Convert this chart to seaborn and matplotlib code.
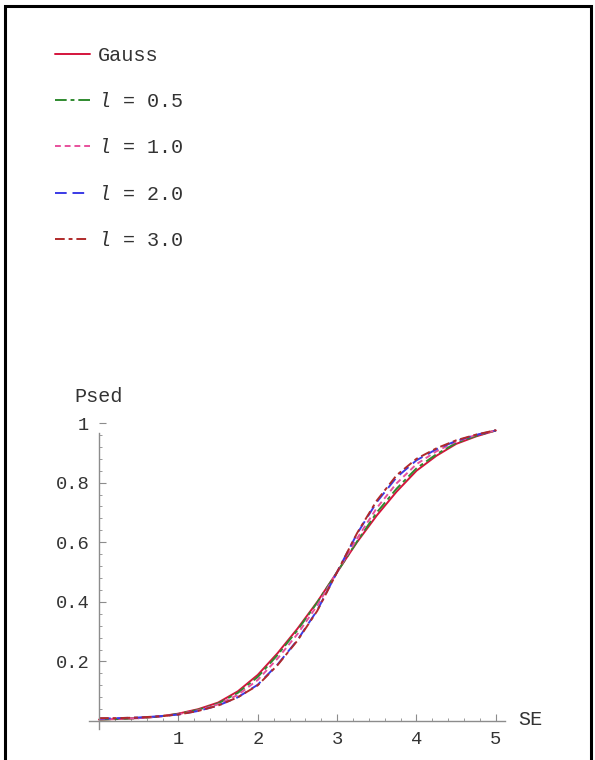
import matplotlib
matplotlib.use("Agg")
import matplotlib.pyplot as plt
import matplotlib.patches as mpatches
from matplotlib.ticker import MultipleLocator
import seaborn as sns
import numpy as np

# ---------------- data ----------------
se = [0.0, 0.25, 0.5, 0.75, 1.0, 1.25, 1.5, 1.75, 2.0, 2.25, 2.5,
      2.75, 3.0, 3.25, 3.5, 3.75, 4.0, 4.25, 4.5, 4.75, 5.0]
gauss = [0.005, 0.007, 0.010, 0.015, 0.025, 0.040, 0.062, 0.100, 0.155, 0.228, 0.310,
         0.400, 0.500, 0.600, 0.690, 0.770, 0.840, 0.890, 0.930, 0.955, 0.975]
l05 = [0.005, 0.007, 0.010, 0.015, 0.024, 0.038, 0.059, 0.095, 0.148, 0.222, 0.305,
       0.398, 0.500, 0.602, 0.700, 0.780, 0.848, 0.895, 0.933, 0.957, 0.975]
l10 = [0.006, 0.008, 0.010, 0.015, 0.023, 0.036, 0.056, 0.088, 0.138, 0.210, 0.292,
       0.388, 0.500, 0.612, 0.715, 0.798, 0.862, 0.905, 0.938, 0.960, 0.975]
l20 = [0.008, 0.010, 0.012, 0.016, 0.022, 0.034, 0.052, 0.080, 0.122, 0.190, 0.272,
       0.372, 0.500, 0.628, 0.735, 0.818, 0.875, 0.912, 0.940, 0.960, 0.975]
l30 = [0.010, 0.010, 0.012, 0.016, 0.022, 0.034, 0.052, 0.080, 0.120, 0.188, 0.270,
       0.370, 0.500, 0.630, 0.740, 0.825, 0.880, 0.915, 0.942, 0.961, 0.976]

labels = ["Gauss", r"$l$ = 0.5", r"$l$ = 1.0", r"$l$ = 2.0", r"$l$ = 3.0"]
series = [gauss, l05, l10, l20, l30]
colors = ["#d4143c", "#2f8a2f", "#e8509c", "#3a3ae6", "#b02a2a"]
styles = ["-", (0, (6, 2, 2, 2)), (0, (3, 2)), (0, (6, 3)), (0, (5, 2, 2, 2))]

xticks = [1, 2, 3, 4, 5]
yticks = [0.2, 0.4, 0.6, 0.8, 1.0]
yticklabels = ["0.2", "0.4", "0.6", "0.8", "1"]

# ---------------- style ----------------
sns.set_theme(style="white")
plt.rcParams["font.family"] = ["Liberation Mono", "DejaVu Sans"]
plt.rcParams["mathtext.fontset"] = "custom"
plt.rcParams["mathtext.rm"] = "Liberation Mono"
plt.rcParams["mathtext.it"] = "Liberation Mono:italic"

fig = plt.figure(figsize=(5.95, 7.6), dpi=100)
ax = fig.add_axes([0.1504, 0.0414, 0.699, 0.402])

for y, lab, c, ls in zip(series, labels, colors, styles):
    sns.lineplot(x=se, y=y, ax=ax, color=c, linestyle=ls, linewidth=1.4, label=lab)

ax.set_xlim(-0.12, 5.12)
ax.set_ylim(-0.025, 1.0)

axis_col = "#8c8c8c"
for s in ["top", "right"]:
    ax.spines[s].set_visible(False)
ax.spines["left"].set_position(("data", 0))
ax.spines["bottom"].set_position(("data", 0))
ax.spines["left"].set_bounds(-0.025, 0.968)
ax.spines["bottom"].set_bounds(-0.12, 5.12)
for s in ["left", "bottom"]:
    ax.spines[s].set_color(axis_col)
    ax.spines[s].set_linewidth(1.0)

ax.set_xticks(xticks)
ax.set_xticklabels([str(t) for t in xticks])
ax.set_yticks(yticks)
ax.set_yticklabels(yticklabels)
ax.xaxis.set_minor_locator(MultipleLocator(0.2))
ax.yaxis.set_minor_locator(MultipleLocator(0.04))
ax.tick_params(axis="x", which="both", bottom=True, top=False)
ax.tick_params(axis="y", which="both", left=True, right=False)
ax.tick_params(axis="both", which="major", direction="in", length=5, width=0.8,
               color=axis_col, labelsize=13.5, labelcolor="#333333", pad=7)
ax.tick_params(axis="both", which="minor", direction="in", length=2.5, width=0.6,
               color=axis_col)
ax.grid(False)
ax.set_xlabel("")
ax.set_ylabel("")

ax.text(5.28, 0.005, "SE", fontsize=14.5, color="#333333", ha="left", va="center")
ax.text(0.0, 1.09, "Psed", fontsize=14.5, color="#333333", ha="center", va="center")

leg = ax.legend(loc="upper left", bbox_to_anchor=(0.092, 0.94),
                bbox_transform=fig.transFigure, frameon=False, fontsize=14.5,
                handlelength=1.74, handletextpad=0.4, labelspacing=1.36,
                borderpad=0, borderaxespad=0)
for t in leg.get_texts():
    t.set_color("#333333")

# outer frame
fig.patches.append(mpatches.Rectangle((5 / 595, -0.02), (591 - 5) / 595, 1.02 - 6 / 760,
                                      transform=fig.transFigure, fill=False,
                                      edgecolor="black", linewidth=2.2))

fig.savefig("out.png", dpi=100, facecolor="white")
